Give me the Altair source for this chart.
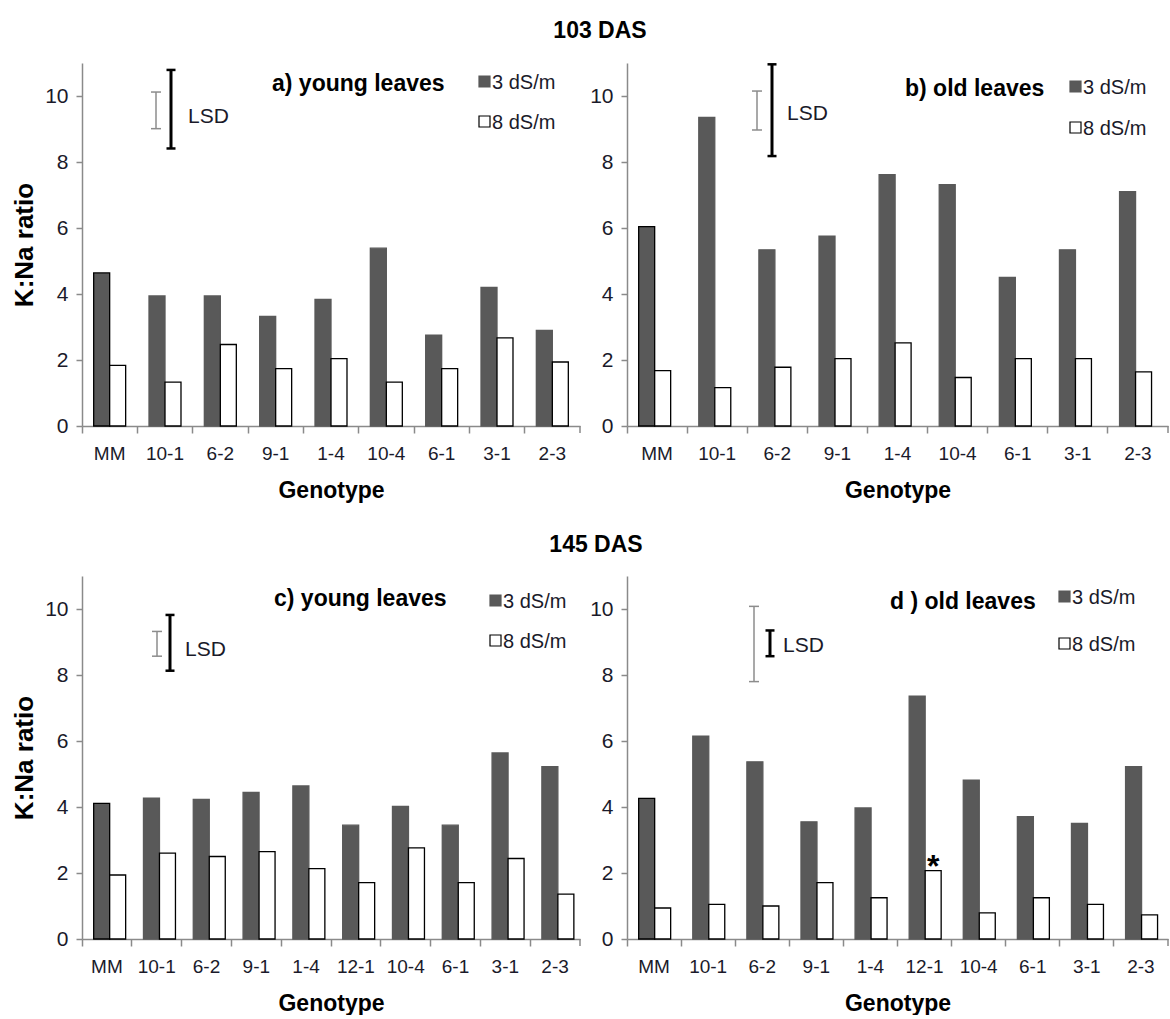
import altair as alt
import pandas as pd

series = ["3 dS/m", "8 dS/m"]
geno_top = ["MM", "10-1", "6-2", "9-1", "1-4", "10-4", "6-1", "3-1", "2-3"]
geno_bot = ["MM", "10-1", "6-2", "9-1", "1-4", "12-1", "10-4", "6-1", "3-1", "2-3"]

a_3 = [4.64, 3.94, 3.94, 3.32, 3.84, 5.39, 2.75, 4.20, 2.90]
a_8 = [1.84, 1.33, 2.47, 1.74, 2.04, 1.33, 1.74, 2.67, 1.94]
b_3 = [6.04, 9.35, 5.34, 5.75, 7.62, 7.31, 4.50, 5.34, 7.10]
b_8 = [1.68, 1.16, 1.78, 2.04, 2.52, 1.47, 2.04, 2.04, 1.64]
c_3 = [4.11, 4.27, 4.23, 4.44, 4.64, 3.45, 4.02, 3.45, 5.64, 5.22]
c_8 = [1.94, 2.60, 2.50, 2.65, 2.13, 1.71, 2.76, 1.71, 2.44, 1.36]
d_3 = [4.26, 6.15, 5.37, 3.55, 3.97, 7.36, 4.81, 3.71, 3.50, 5.22]
d_8 = [0.94, 1.05, 1.00, 1.71, 1.25, 2.07, 0.79, 1.25, 1.05, 0.73]

# LSD bars (low, high) in K:Na units: first = thin grey bar, second = thick black bar
lsd_a = [(9.01, 10.12), (8.41, 10.79)]
lsd_b = [(8.97, 10.15), (8.18, 10.96)]
lsd_c = [(8.57, 9.32), (8.13, 9.82)]
lsd_d = [(7.80, 10.08), (8.57, 9.35)]

panel_titles = ["a) young leaves", "b) old leaves", "c) young leaves", "d ) old leaves"]
row_titles = ["103 DAS", "145 DAS"]
star_geno = "12-1"

FONT = "Liberation Sans, Arial, sans-serif"
DARK = "#595959"
AXC = "#8a8a8a"
TXT = "#1a1a2a"
H = 363
W_L = 498
W_R = 541


def panel(genos, v3, v8, W, ytitle, ptitle, lsd, lay, das=None, star=False):
    n = len(genos)
    df = pd.DataFrame({
        "genotype": genos * 2,
        "series": [series[0]] * n + [series[1]] * n,
        "value": v3 + v8,
    })
    yscale = alt.Scale(domain=[0, 11], nice=False, zero=True)
    xscale = alt.Scale(domain=genos, paddingInner=0, paddingOuter=0)
    offscale = alt.Scale(domain=series, paddingInner=0, paddingOuter=0.73)
    yaxis_kw = dict(
        values=list(range(12)),
        labelExpr="datum.value % 2 == 0 ? datum.label : ''",
        grid=False, domainColor=AXC, domainWidth=1.5, tickColor=AXC, tickWidth=1.5,
        tickSize=6, labelPadding=8, labelFont=FONT, labelFontSize=21, labelColor=TXT,
    )
    if ytitle:
        yaxis = alt.Axis(title=ytitle, titleFont=FONT, titleFontSize=26, titleFontWeight="bold",
                         titleColor="#000000", titlePadding=7, **yaxis_kw)
    else:
        yaxis = alt.Axis(title=None, **yaxis_kw)
    xaxis = alt.Axis(
        bandPosition=0, labelAngle=0,
        grid=False, domainColor=AXC, domainWidth=1.5, tickColor=AXC, tickWidth=1.5,
        tickSize=7, labelPadding=11, labelFont=FONT, labelFontSize=19, labelColor=TXT,
        title="Genotype", titleFont=FONT, titleFontSize=23, titleFontWeight="bold",
        titleColor="#000000", titlePadding=16,
    )
    bars = alt.Chart(df).mark_bar(strokeWidth=1.3).encode(
        x=alt.X("genotype:N", sort=genos, scale=xscale, axis=xaxis),
        xOffset=alt.XOffset("series:N", sort=series, scale=offscale),
        y=alt.Y("value:Q", scale=yscale, axis=yaxis),
        fill=alt.Fill("series:N", scale=alt.Scale(domain=series, range=[DARK, "#ffffff"]), legend=None),
        stroke=alt.condition((alt.datum.series == series[1]) | (alt.datum.genotype == "MM"),
                             alt.value("#000000"), alt.value(DARK)),
    )
    layers = [bars]
    # closing tick at the right end of the x axis
    layers.append(alt.Chart(pd.DataFrame({"k": [0]})).mark_rule(color=AXC, strokeWidth=1.5).encode(
        x=alt.value(W), y=alt.value(H), y2=alt.value(H + 7)))
    # LSD bars
    styles = [("#8c8c8c", 1.5, 1.5, 5), ("#000000", 3, 2.5, 4.5)]
    for (lo, hi), (col, sw, csw, cap), xpx in zip(lsd, styles, lay["lsd_x"]):
        d = pd.DataFrame({"value": [lo], "value2": [hi]})
        base = alt.Chart(d)
        layers.append(base.mark_rule(color=col, strokeWidth=sw).encode(
            x=alt.value(xpx), y=alt.Y("value:Q", scale=yscale), y2="value2:Q"))
        for v in [lo, hi]:
            layers.append(alt.Chart(pd.DataFrame({"value": [v]})).mark_rule(
                color=col, strokeWidth=csw).encode(
                x=alt.value(xpx - cap), x2=alt.value(xpx + cap),
                y=alt.Y("value:Q", scale=yscale)))
    layers.append(alt.Chart(pd.DataFrame({"t": ["LSD"]})).mark_text(
        align="left", baseline="alphabetic", font=FONT, fontSize=21, color=TXT).encode(
        x=alt.value(lay["lsd_text"][0]), y=alt.value(lay["lsd_text"][1]), text="t:N"))
    # panel title
    layers.append(alt.Chart(pd.DataFrame({"t": [ptitle]})).mark_text(
        align="left", baseline="alphabetic", font=FONT, fontSize=23, fontWeight="bold",
        color="#000000").encode(
        x=alt.value(lay["title"][0]), y=alt.value(lay["title"][1]), text="t:N"))
    # legend
    lx = lay["leg_x"]
    for i, s in enumerate(series):
        sy = lay["leg_y"][i]
        layers.append(alt.Chart(pd.DataFrame({"k": [0]})).mark_rect(
            fill=DARK if i == 0 else "#ffffff", stroke=DARK if i == 0 else "#000000",
            strokeWidth=1.2).encode(
            x=alt.value(lx), x2=alt.value(lx + 11), y=alt.value(sy - 11), y2=alt.value(sy)))
        layers.append(alt.Chart(pd.DataFrame({"t": [s]})).mark_text(
            align="left", baseline="alphabetic", font=FONT, fontSize=20, color=TXT).encode(
            x=alt.value(lx + 13), y=alt.value(sy + 2), text="t:N"))
    if das:
        layers.append(alt.Chart(pd.DataFrame({"t": [das]})).mark_text(
            align="center", baseline="alphabetic", font=FONT, fontSize=23, fontWeight="bold",
            color="#000000").encode(
            x=alt.value(lay["das"][0]), y=alt.value(lay["das"][1]), text="t:N"))
    if star:
        sd = pd.DataFrame({"genotype": [star_geno], "series": [series[1]],
                           "value": [d_8[geno_bot.index(star_geno)]], "t": ["*"]})
        layers.append(alt.Chart(sd).mark_text(
            baseline="alphabetic", font=FONT, fontSize=32, fontWeight="bold", dy=6,
            color="#000000").encode(
            x=alt.X("genotype:N", sort=genos, scale=xscale),
            xOffset=alt.XOffset("series:N", sort=series, scale=offscale),
            y=alt.Y("value:Q", scale=yscale),
            text="t:N"))
    return alt.layer(*layers).properties(width=W, height=H)


lay_a = {"lsd_x": [74, 89], "lsd_text": [106, 60], "title": [190, 28],
         "leg_x": 397, "leg_y": [24, 64], "das": [518, -25]}
lay_b = {"lsd_x": [130, 145], "lsd_text": [160, 57], "title": [278, 33],
         "leg_x": 443, "leg_y": [29, 70]}
lay_c = {"lsd_x": [75, 88], "lsd_text": [103, 80], "title": [192, 30],
         "leg_x": 408, "leg_y": [30, 70], "das": [514, -24]}
lay_d = {"lsd_x": [127, 143], "lsd_text": [156, 76], "title": [263, 33],
         "leg_x": 432, "leg_y": [26, 73]}

pa = panel(geno_top, a_3, a_8, W_L, "K:Na ratio", panel_titles[0], lsd_a, lay_a, das=row_titles[0])
pb = panel(geno_top, b_3, b_8, W_R, None, panel_titles[1], lsd_b, lay_b)
pc = panel(geno_bot, c_3, c_8, W_L, "K:Na ratio", panel_titles[2], lsd_c, lay_c, das=row_titles[1])
pd_ = panel(geno_bot, d_3, d_8, W_R, None, panel_titles[3], lsd_d, lay_d, star=True)

chart = alt.concat(
    pa, pb, pc, pd_, columns=2,
    spacing=alt.RowColnumber(row=150, column=47), bounds="flush",
).configure_view(stroke=None).properties(
    padding={"left": 11, "top": 20, "right": 0, "bottom": 0},
    background="#ffffff",
)

chart.save("out.html", embed_options={"renderer": "svg", "actions": False})
